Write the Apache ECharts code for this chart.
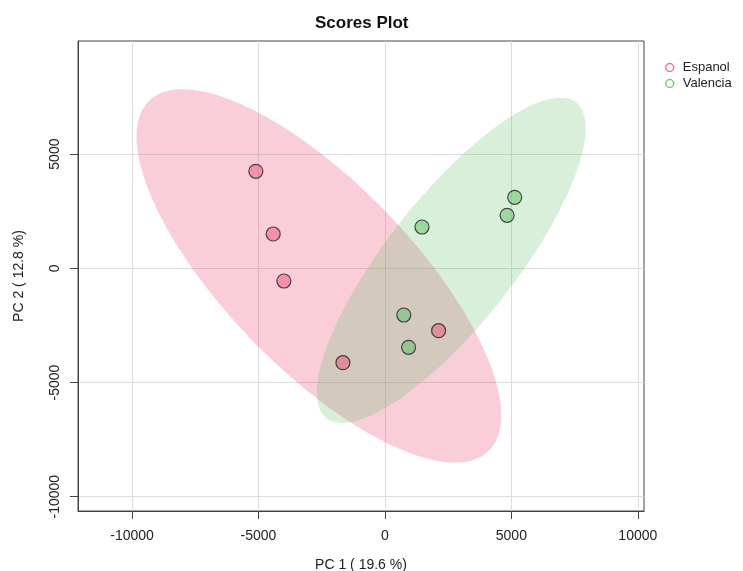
<!DOCTYPE html>
<html><head><meta charset="utf-8">
<script src="https://cdn.jsdelivr.net/npm/echarts@6/dist/echarts.min.js"></script>
<style>html,body{margin:0;padding:0;background:#fff}#c{width:743px;height:571px}</style>
</head><body><div id="c"></div>
<script>
var groups = ['Espanol', 'Valencia'];
var espanolX = [-5104, -4419, -3996, -1660, 2123];
var espanolY = [4247, 1502, -556, -4133, -2732];
var valenciaX = [1466, 746, 936, 5131, 4831];
var valenciaY = [1808, -2045, -3459, 3108, 2320];
var xTicks = [-10000, -5000, 0, 5000, 10000];
var yTicks = [-10000, -5000, 0, 5000];
var xName = 'PC 1 ( 19.6 %)';
var yName = 'PC 2 ( 12.8 %)';

function pairs(xs, ys){ return xs.map(function(v,i){ return [v, ys[i]]; }); }

// 95% data ellipse (chi-square, 2 df) from sample covariance
function ellipsePts(xs, ys){
  var n = xs.length, mx = 0, my = 0;
  xs.forEach(function(v){ mx += v; }); ys.forEach(function(v){ my += v; });
  mx /= n; my /= n;
  var sxx=0, syy=0, sxy=0;
  for (var i=0;i<n;i++){ var dx=xs[i]-mx, dy=ys[i]-my; sxx+=dx*dx; syy+=dy*dy; sxy+=dx*dy; }
  sxx/=(n-1); syy/=(n-1); sxy/=(n-1);
  var tr = sxx+syy, det = sxx*syy-sxy*sxy;
  var disc = Math.sqrt(tr*tr/4-det);
  var l1 = tr/2+disc, l2 = tr/2-disc;
  var ang = Math.atan2(l1-sxx, sxy);
  var c = Math.sqrt(5.991464547);
  var a = c*Math.sqrt(l1), b = c*Math.sqrt(l2);
  var pts = [];
  for (var k=0;k<200;k++){
    var t = k/200*2*Math.PI;
    var ex = a*Math.cos(t), ey = b*Math.sin(t);
    pts.push([mx + ex*Math.cos(ang) - ey*Math.sin(ang), my + ex*Math.sin(ang) + ey*Math.cos(ang)]);
  }
  return pts;
}

function ellipseSeries(name, xs, ys, fill, z){
  var pts = ellipsePts(xs, ys);
  return {
    type: 'custom', name: name + ' ellipse', z: z, silent: true,
    data: [[0,0]],
    renderItem: function(params, api){
      return { type: 'polygon', shape: { points: pts.map(function(p){ return api.coord(p); }) }, style: { fill: fill } };
    }
  };
}

var chart = echarts.init(document.getElementById('c'));
var font = 'Liberation Sans, Arial, sans-serif';
var plain = function(v){ return String(v); };
chart.setOption({
  animation: false,
  title: { text: 'Scores Plot', left: 310, top: 10,
    textStyle: { fontFamily: font, fontSize: 17, fontWeight: 'bold', color: '#111' } },
  legend: {
    data: [
      { name: 'Espanol', itemStyle: { color: 'transparent', borderColor: '#E8537A', borderWidth: 1.5 } },
      { name: 'Valencia', itemStyle: { color: 'transparent', borderColor: '#5CBB5C', borderWidth: 1.5 } }
    ],
    orient: 'vertical', left: 660, top: 56, itemGap: 3,
    icon: 'circle', itemWidth: 16, itemHeight: 8,
    textStyle: { fontFamily: font, fontSize: 13, color: '#222' }
  },
  grid: { left: 78, right: 99, top: 41, bottom: 60, show: true, borderColor: '#444', borderWidth: 1,
    outerBoundsMode: 'none', containLabel: false },
  xAxis: {
    type: 'value', min: -12137, max: 10245,
    name: xName, nameLocation: 'middle', nameGap: 47,
    nameTextStyle: { fontFamily: font, fontSize: 14, color: '#222' },
    axisLine: { show: true, onZero: false, lineStyle: { color: '#444' } },
    axisTick: { show: true, length: 8, customValues: xTicks, lineStyle: { color: '#444' } },
    axisLabel: { customValues: xTicks, formatter: plain, margin: 18, fontFamily: font, fontSize: 14, color: '#222' },
    splitLine: { show: true, lineStyle: { color: '#dcdcdc', width: 1 } }
  },
  yAxis: {
    type: 'value', min: -10625, max: 9951,
    name: yName, nameLocation: 'middle', nameGap: 52,
    nameTextStyle: { fontFamily: font, fontSize: 14, color: '#222' },
    axisLine: { show: true, onZero: false, lineStyle: { color: '#444' } },
    axisTick: { show: true, length: 8, customValues: yTicks, lineStyle: { color: '#444' } },
    axisLabel: { customValues: yTicks, formatter: plain, rotate: 90, margin: 16, fontFamily: font, fontSize: 14, color: '#222' },
    splitLine: { show: true, lineStyle: { color: '#dcdcdc', width: 1 } }
  },
  series: [
    ellipseSeries('Espanol', espanolX, espanolY, 'rgba(235,80,120,0.28)', 1),
    ellipseSeries('Valencia', valenciaX, valenciaY, 'rgba(90,190,100,0.24)', 2),
    { type: 'scatter', name: 'Espanol', z: 3, symbolSize: 14, data: pairs(espanolX, espanolY),
      itemStyle: { color: 'rgba(235,80,120,0.6)', borderColor: '#222', borderWidth: 1.2 } },
    { type: 'scatter', name: 'Valencia', z: 3, symbolSize: 14, data: pairs(valenciaX, valenciaY),
      itemStyle: { color: 'rgba(80,190,90,0.55)', borderColor: '#222', borderWidth: 1.2 } }
  ]
});
</script></body></html>
